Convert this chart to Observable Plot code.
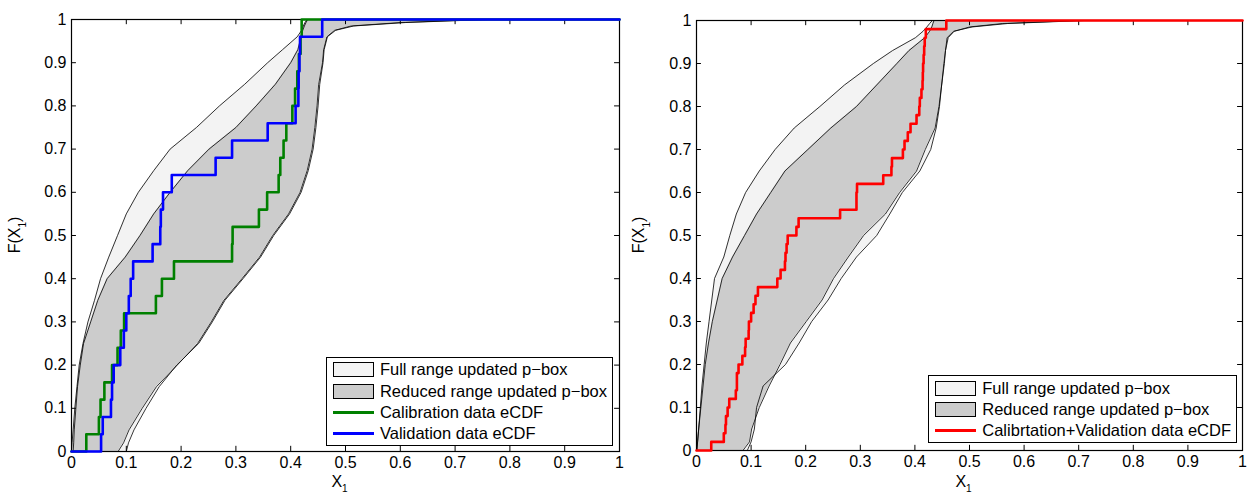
<!DOCTYPE html>
<html><head><meta charset="utf-8">
<script src="https://cdn.jsdelivr.net/npm/d3@7"></script>
<script src="https://cdn.jsdelivr.net/npm/@observablehq/plot@0.6"></script>
<style>
body{margin:0;background:#fff;font-family:"Liberation Sans",Arial,sans-serif;}
#wrap{display:flex;width:1248px;height:497px;overflow:hidden;}
.panel{position:relative;width:624px;height:497px;}
.legend{position:absolute;border:1px solid #000;background:#fff;padding:1px 5px 1px 6px;font-size:16.5px;color:#000;box-sizing:border-box;}
.row{display:flex;align-items:center;height:21.2px;white-space:nowrap;}
.sw{width:41px;height:15px;box-sizing:border-box;border:1px solid #000;margin-right:6px;flex:none;}
.ln{width:41px;height:3px;margin-right:6px;flex:none;}
</style></head>
<body><div id="wrap"><div class="panel" id="p1"></div><div class="panel" id="p2"></div></div>
<script>
// ---- data ----
const xTicks = [0, 0.1, 0.2, 0.3, 0.4, 0.5, 0.6, 0.7, 0.8, 0.9, 1];
const yTicks = [0, 0.1, 0.2, 0.3, 0.4, 0.5, 0.6, 0.7, 0.8, 0.9, 1];
const pLevels = [0, 0.02, 0.05, 0.1, 0.15, 0.2, 0.25, 0.3, 0.35, 0.4, 0.45, 0.5, 0.55, 0.6, 0.65, 0.7, 0.75, 0.8, 0.85, 0.9, 0.93, 0.96, 0.975, 0.985, 0.993, 1];

// left panel p-box bounds (x at each probability level)
const leftFullUpper    = [0, 0.001, 0.003, 0.006, 0.010, 0.014, 0.021, 0.030, 0.042, 0.053, 0.068, 0.084, 0.100, 0.122, 0.150, 0.180, 0.228, 0.270, 0.316, 0.358, 0.385, 0.412, 0.420, 0.423, 0.426, 0.430];
const leftReducedUpper = [0.003, 0.004, 0.005, 0.008, 0.011, 0.016, 0.022, 0.035, 0.048, 0.065, 0.098, 0.125, 0.150, 0.180, 0.212, 0.251, 0.300, 0.337, 0.372, 0.400, 0.413, 0.419, 0.422, 0.425, 0.428, 0.431];
const leftReducedLower = [0.085, 0.095, 0.105, 0.129, 0.155, 0.193, 0.230, 0.255, 0.278, 0.311, 0.343, 0.367, 0.396, 0.417, 0.430, 0.439, 0.444, 0.448, 0.451, 0.458, 0.460, 0.466, 0.480, 0.510, 0.600, 0.750];
const leftFullLower    = [0.100, 0.104, 0.114, 0.136, 0.160, 0.192, 0.232, 0.257, 0.280, 0.313, 0.345, 0.369, 0.398, 0.419, 0.432, 0.441, 0.446, 0.450, 0.453, 0.459, 0.461, 0.467, 0.482, 0.515, 0.610, 0.760];

// right panel p-box bounds
const rightFullUpper    = [0, 0.002, 0.004, 0.007, 0.010, 0.014, 0.018, 0.023, 0.028, 0.033, 0.050, 0.061, 0.073, 0.090, 0.115, 0.144, 0.179, 0.226, 0.271, 0.324, 0.359, 0.401, 0.415, 0.422, 0.427, 0.432];
const rightReducedUpper = [0.001, 0.002, 0.004, 0.008, 0.012, 0.016, 0.022, 0.029, 0.038, 0.047, 0.066, 0.088, 0.110, 0.136, 0.162, 0.204, 0.246, 0.293, 0.330, 0.367, 0.389, 0.418, 0.427, 0.431, 0.433, 0.435];
const rightReducedLower = [0.085, 0.097, 0.101, 0.115, 0.133, 0.153, 0.172, 0.201, 0.230, 0.251, 0.278, 0.306, 0.346, 0.372, 0.403, 0.419, 0.437, 0.444, 0.449, 0.453, 0.456, 0.461, 0.472, 0.500, 0.560, 0.700];
const rightFullLower    = [0.093, 0.100, 0.106, 0.110, 0.122, 0.163, 0.188, 0.211, 0.241, 0.265, 0.293, 0.330, 0.354, 0.377, 0.409, 0.429, 0.439, 0.445, 0.449, 0.454, 0.456, 0.459, 0.471, 0.505, 0.570, 0.710];

// samples
const calibration = [0.027, 0.050, 0.053, 0.060, 0.074, 0.084, 0.090, 0.096, 0.154, 0.165, 0.187, 0.293, 0.294, 0.342, 0.357, 0.378, 0.381, 0.387, 0.392, 0.403, 0.408, 0.412, 0.415, 0.418, 0.420];
const validation  = [0.054, 0.057, 0.072, 0.074, 0.077, 0.089, 0.0955, 0.100, 0.1046, 0.108, 0.1125, 0.148, 0.162, 0.163, 0.167, 0.183, 0.263, 0.293, 0.358, 0.409, 0.414, 0.4145, 0.416, 0.417, 0.4575];

// ---- helpers ----
function band(upper, lower) { return pLevels.map((p, i) => ({p, xl: upper[i], xr: lower[i]})); }
function ecdf(sample) {
  const s = [...sample].sort((a, b) => a - b), n = s.length;
  return [{x: 0, y: 0}, ...s.map((v, i) => ({x: v, y: (i + 1) / n})), {x: 1, y: 1}];
}
const fmt = d => String(d);

function panel(el, opts) {
  const full = band(opts.fu, opts.fl), red = band(opts.ru, opts.rl);
  const lineW = 0.8;
  const marks = [
    Plot.areaX(full, {y: "p", x1: "xl", x2: "xr", fill: "#f3f3f3"}),
    Plot.areaX(red, {y: "p", x1: "xl", x2: "xr", fill: "#cccccc"}),
    Plot.line(full, {x: "xl", y: "p", stroke: "#000", strokeWidth: lineW}),
    Plot.line(full, {x: "xr", y: "p", stroke: "#000", strokeWidth: lineW}),
    Plot.line(red, {x: "xl", y: "p", stroke: "#000", strokeWidth: lineW}),
    Plot.line(red, {x: "xr", y: "p", stroke: "#000", strokeWidth: lineW}),
    Plot.frame({stroke: "#000", strokeWidth: 1.2}),
    Plot.ruleX(xTicks, {x: d => d, y1: 0, y2: 0.012, stroke: "#000"}),
    Plot.ruleX(xTicks, {x: d => d, y1: 1, y2: 0.988, stroke: "#000"}),
    Plot.ruleY(yTicks, {y: d => d, x1: 0, x2: 0.009, stroke: "#000"}),
    Plot.ruleY(yTicks, {y: d => d, x1: 1, x2: 0.991, stroke: "#000"}),
    ...opts.series.map(s => Plot.line(ecdf(s.sample), {x: "x", y: "y", curve: "step-after", stroke: s.color, strokeWidth: 2.6})),
    Plot.axisX({ticks: xTicks, tickSize: 0, tickPadding: 5, tickFormat: fmt, fontSize: 16}),
    Plot.axisY({ticks: yTicks, tickSize: 0, tickPadding: 5, tickFormat: fmt, fontSize: 16})
  ];
  const chart = Plot.plot({
    width: 624, height: 497,
    marginLeft: opts.ml, marginRight: opts.mr, marginTop: opts.mt, marginBottom: opts.mb,
    x: {domain: [0, 1], label: null},
    y: {domain: [0, 1], label: null},
    style: {fontFamily: "'Liberation Sans', Arial, sans-serif", fontSize: "16px", color: "#000", background: "#fff", overflow: "visible"},
    marks
  });
  const sx = chart.scale("x"), sy = chart.scale("y");
  const svg = d3.select(chart);
  const xl = svg.append("text").attr("x", sx.apply(0.49)).attr("y", 487).attr("text-anchor", "middle")
    .attr("font-size", 16).attr("fill", "#000").text("X");
  xl.append("tspan").attr("font-size", 10).attr("dy", 5).text("1");
  const yl = svg.append("text").attr("transform", `translate(20,${sy.apply(0.5)}) rotate(-90)`)
    .attr("text-anchor", "middle").attr("font-size", 16).attr("fill", "#000").text("F(X");
  yl.append("tspan").attr("font-size", 10).attr("dy", 6).text("1");
  yl.append("tspan").attr("dy", -6).text(")");
  el.appendChild(chart);

  const lg = document.createElement("div");
  lg.className = "legend";
  lg.style.right = opts.lr + "px";
  lg.style.bottom = opts.lb + "px";
  for (const it of opts.legend) {
    const row = document.createElement("div"); row.className = "row";
    const sw = document.createElement("div");
    if (it.fill) { sw.className = "sw"; sw.style.background = it.fill; }
    else { sw.className = "ln"; sw.style.background = it.stroke; }
    const tx = document.createElement("span"); tx.textContent = it.label;
    row.appendChild(sw); row.appendChild(tx); lg.appendChild(row);
  }
  el.appendChild(lg);
}

panel(document.getElementById("p1"), {
  fu: leftFullUpper, fl: leftFullLower, ru: leftReducedUpper, rl: leftReducedLower,
  series: [{sample: calibration, color: "#008000"}, {sample: validation, color: "#0000ff"}],
  ml: 71, mr: 5, mt: 19, mb: 46, lr: 11, lb: 51,
  legend: [
    {label: "Full range updated p−box", fill: "#f3f3f3"},
    {label: "Reduced range updated p−box", fill: "#cccccc"},
    {label: "Calibration data eCDF", stroke: "#008000"},
    {label: "Validation data eCDF", stroke: "#0000ff"}
  ]
});
panel(document.getElementById("p2"), {
  fu: rightFullUpper, fl: rightFullLower, ru: rightReducedUpper, rl: rightReducedLower,
  series: [{sample: calibration.concat(validation), color: "#ff0000"}],
  ml: 72, mr: 6, mt: 20, mb: 47, lr: 11, lb: 54,
  legend: [
    {label: "Full range updated p−box", fill: "#f3f3f3"},
    {label: "Reduced range updated p−box", fill: "#cccccc"},
    {label: "Calibrtation+Validation data eCDF", stroke: "#ff0000"}
  ]
});
</script></body></html>
